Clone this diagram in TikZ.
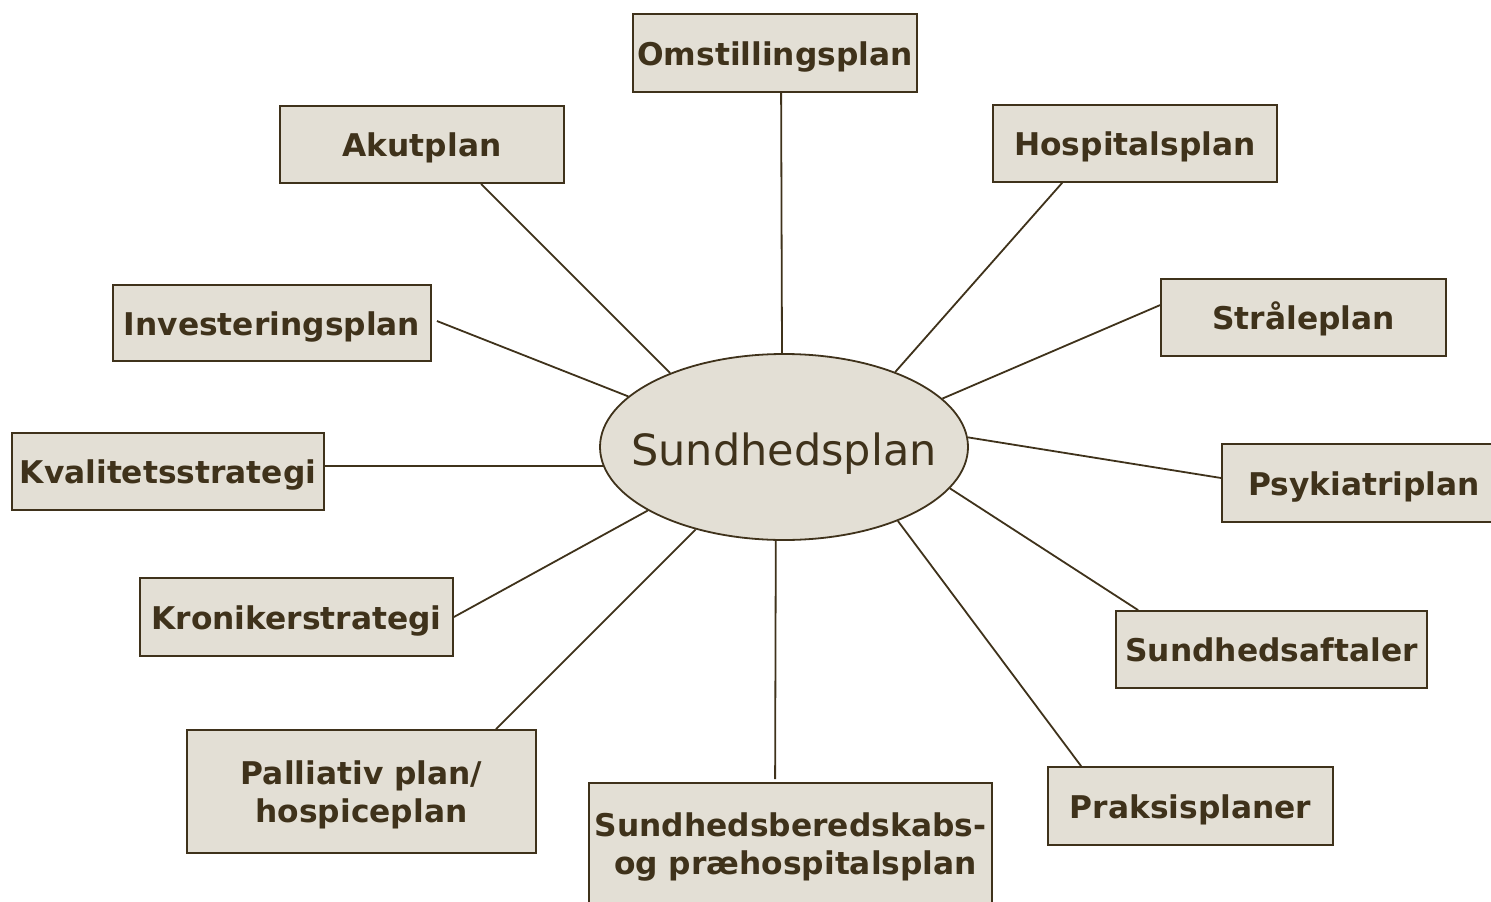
\documentclass[tikz,border=0pt]{standalone}
\usepackage{fontspec}
\setmainfont{DejaVu Sans}
\usetikzlibrary{shapes.geometric,calc}
\definecolor{boxfill}{HTML}{E3DFD5}
\definecolor{ink}{HTML}{3F321B}
\begin{document}
\begin{tikzpicture}[x=1pt,y=-1pt,
  plan/.style={draw=ink,fill=boxfill,line width=1.8pt,inner sep=0pt,text=ink,
    font=\fontsize{31.3}{38}\selectfont\bfseries,align=center,anchor=center,
    text height=24.4pt,text depth=0pt},
  plantwo/.style={plan,text height=,text depth=-3.3pt},
  link/.style={draw=ink,line width=1.8pt}]
\useasboundingbox (0,0) rectangle (1491,902);
\node[draw=ink,fill=boxfill,line width=1.8pt,ellipse,inner sep=0pt,minimum width=368pt,minimum height=186pt] (c) at (784,447) {};
\node[text=ink,inner sep=0pt,font=\fontsize{43}{50}\selectfont,text height=36pt,text depth=0pt] (ct) at (c.center) {Sundhedsplan};
\node[plan,minimum width=284pt,minimum height=78pt] (om) at (775,53) {Omstillingsplan};
\node[plan,minimum width=284pt,minimum height=77pt] (ak) at (422,144.5) {Akutplan};
\node[plan,minimum width=284pt,minimum height=77pt] (ho) at (1135,143.5) {Hospitalsplan};
\node[plan,minimum width=318pt,minimum height=76pt] (inv) at (272,323) {Investeringsplan};
\node[plan,minimum width=285pt,minimum height=77pt] (st) at (1303.5,317.5) {Stråleplan};
\node[plan,minimum width=312pt,minimum height=77pt] (kv) at (168,471.5) {Kvalitetsstrategi};
\node[plan,minimum width=284pt,minimum height=78pt] (ps) at (1364,483) {Psykiatriplan};
\node[plan,minimum width=313pt,minimum height=78pt] (kr) at (296.5,617) {Kronikerstrategi};
\node[plan,minimum width=311pt,minimum height=77pt] (sa) at (1271.5,649.5) {Sundhedsaftaler};
\node[plantwo,minimum width=349pt,minimum height=123pt] (pa) at (361.5,791.5) {Palliativ plan/\\hospiceplan};
\node[plantwo,minimum width=403pt,minimum height=121pt] (be) at (790.5,843.5) {Sundhedsberedskabs-\\\hspace*{10pt}og præhospitalsplan};
\node[plan,minimum width=285pt,minimum height=78pt] (pr) at (1190.5,806) {Praksisplaner};
% connectors
\draw[link] ($(om.south west)+(149,0)$) -- ($(c.north)+(-2,0)$);
\draw[link] ($(ak.south west)+(202,0)$) -- (c.147);
\draw[link] ($(ho.south west)+(70,0)$) -- (c.34.2);
\draw[link] ($(st.north west)+(0,27)$) -- (c.17);
\draw[link] ($(inv.east)+(5,-2)$) -- (c.162);
\draw[link] (c.186.7 -| kv.east) -- (c.186.7);
\draw[link] ($(ps.west)+(0,-5)$) -- (c.3.2);
\draw[link] (kr.east) -- (c.205.2);
\draw[link] ($(sa.north west)+(23,0)$) -- (c.-14.4);
\draw[link] ($(pa.north west)+(310,0)$) -- (c.223.3);
\draw[link] ($(be.north west)+(187,-3)$) -- (c.265);
\draw[link] ($(pr.north west)+(34,0)$) -- (c.-33.9);
\end{tikzpicture}
\end{document}
